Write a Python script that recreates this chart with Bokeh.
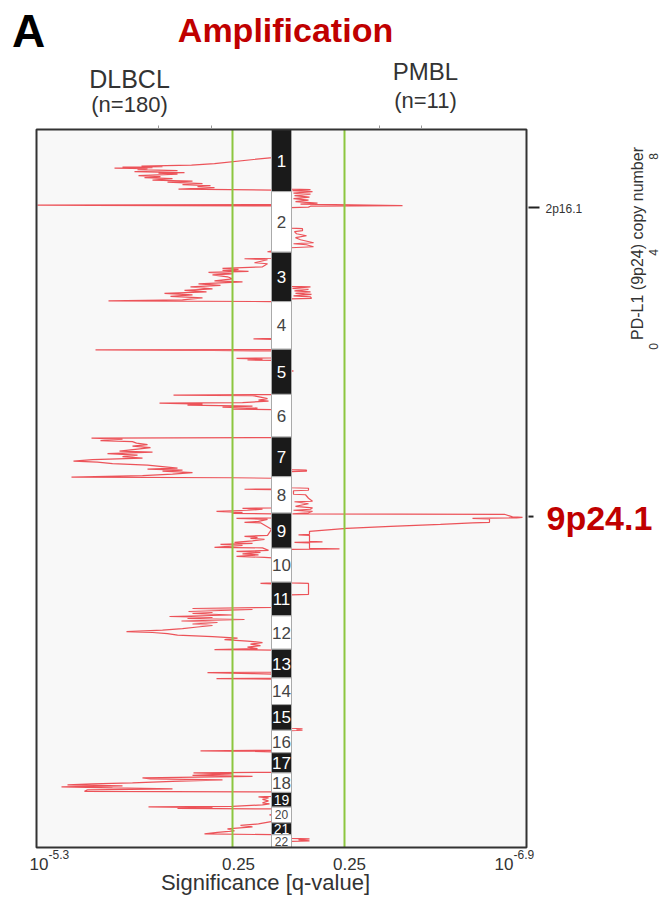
import math
from bokeh.plotting import figure
from bokeh.models import Range1d, ColumnDataSource
from bokeh.core.properties import value
from bokeh.embed import file_html
from bokeh.resources import INLINE

# ---------------- data ----------------
CHROMS = [str(i) for i in range(1, 23)]
CHROM_LEN = [249, 243, 198, 191, 181, 171, 159, 146, 141, 136, 135, 134,
             115, 107, 103, 90, 81, 78, 59, 63, 48, 51]  # Mb

# significance profiles: (genome position Mb, significance in display units; 0 = q 1, 235 = axis max)
DLBCL_PROFILE = [
    (0, 0),
    (112.5, 0), (136.6, 58), (142.6, 81), (146.7, 131), (148.7, 110), (150.7, 150), (152.7, 120),
    (154.7, 158), (156.7, 125), (160.7, 135), (164.7, 95), (168.8, 138), (172.8, 88), (174.8, 114),
    (178.8, 95), (184.8, 134), (188.8, 112), (192.9, 128), (196.9, 100), (202.9, 120), (206.9, 80),
    (210.9, 105), (217.0, 70), (221.0, 90), (225.0, 62), (229.0, 75), (233.0, 58), (239.1, 94), (243.1, 0),
    (301.4, 0), (303.0, 235), (304.6, 180), (306.2, 0),
    (486.2, 0), (490.2, 5), (492.2, 0), (516.3, 0), (518.3, 28), (522.3, 5), (534.4, 18), (538.4, 5),
    (550.5, 10), (556.5, 50), (560.5, 34), (564.5, 50), (568.5, 24), (572.6, 64), (578.6, 40),
    (582.6, 60), (590.6, 45), (598.7, 40), (606.7, 58), (610.7, 30), (618.8, 74), (624.8, 52),
    (630.8, 82), (638.9, 60), (644.9, 88), (650.9, 66), (656.9, 108), (663.0, 80), (669.0, 102),
    (675.0, 70), (683.1, 90), (687.1, 164), (689.9, 0),
    (837.8, 0), (839.8, 19), (841.8, 0), (882.0, 0), (884.0, 177), (886.0, 60), (888.0, 0),
    (916.1, 0), (918.1, 36), (920.9, 10), (924.1, 25), (926.1, 0),
    (1062.8, 0), (1064.8, 99), (1066.8, 20), (1072.8, 12), (1078.8, 5), (1084.9, 14), (1088.9, 4),
    (1094.9, 30), (1096.9, 113), (1100.9, 70), (1105.0, 85), (1109.0, 20), (1113.0, 50), (1117.0, 15),
    (1121.0, 40), (1123.0, 0),
    (1235.5, 0), (1237.5, 181), (1241.5, 150), (1247.6, 172), (1251.6, 140), (1257.6, 136),
    (1263.7, 125), (1269.7, 140), (1275.7, 122), (1281.7, 135), (1289.8, 153), (1293.8, 120),
    (1299.8, 165), (1305.9, 135), (1311.9, 150), (1317.9, 130), (1323.9, 180), (1330.0, 199),
    (1334.0, 175), (1340.0, 160), (1346.0, 125), (1352.1, 110), (1358.1, 95), (1362.1, 125),
    (1366.1, 90), (1370.1, 110), (1376.2, 80), (1382.2, 100), (1388.2, 130), (1394.2, 201),
    (1396.3, 40), (1398.3, 0),
    (1440.5, 0), (1442.5, 28), (1444.5, 0), (1516.8, 0), (1518.8, 30), (1522.8, 10), (1526.8, 25),
    (1530.9, 56), (1534.9, 30), (1538.9, 40), (1540.9, 0),
    (1557.0, 0), (1559.0, 36), (1563.0, 5), (1571.0, 14), (1575.1, 28), (1577.1, 12), (1603.2, 1),
    (1627.3, 5), (1631.3, 28), (1635.3, 15), (1639.3, 22), (1643.4, 8), (1649.4, 20), (1655.4, 38),
    (1659.4, 20), (1663.5, 52), (1667.5, 30), (1675.5, 58), (1677.5, 10),
    (1687.6, 4), (1691.6, 36), (1695.6, 12), (1701.6, 30), (1705.6, 14), (1711.7, 36), (1715.7, 8),
    (1717.7, 0), (1818.1, 0), (1820.2, 12), (1822.2, 0),
    (1916.6, 0), (1920.6, 80), (1924.6, 20), (1932.7, 84), (1936.7, 60), (1940.7, 80), (1946.7, 40),
    (1952.7, 103), (1956.8, 60), (1960.8, 85), (1964.8, 28), (1970.8, 91), (1976.9, 55), (1982.9, 80),
    (1988.9, 60), (1994.9, 75), (2001.0, 90), (2007.0, 110), (2013.0, 146), (2017.0, 120),
    (2021.1, 105), (2027.1, 95), (2033.1, 60), (2039.1, 35), (2045.2, 48), (2051.2, 25), (2057.2, 10),
    (2063.2, 22), (2069.3, 12), (2075.3, 25), (2081.3, 15), (2085.3, 58), (2087.4, 0),
    (2175.7, 0), (2177.8, 65), (2181.8, 20), (2183.8, 0), (2199.9, 0), (2201.9, 56), (2203.9, 0),
    (2489.2, 0), (2491.2, 72), (2493.2, 20), (2495.2, 0),
    (2577.5, 0), (2579.6, 79), (2583.6, 40), (2589.6, 80), (2593.6, 20), (2599.6, 130), (2603.6, 122),
    (2607.7, 50), (2613.7, 100), (2619.7, 140), (2623.7, 180), (2627.8, 205), (2631.8, 150),
    (2635.8, 211), (2639.8, 160), (2643.8, 100), (2647.9, 185), (2653.9, 188), (2655.9, 0),
    (2674.0, 0), (2676.0, 14), (2680.0, 4), (2686.0, 10), (2692.1, 4), (2700.1, 10), (2704.1, 3),
    (2708.1, 10), (2714.2, 40), (2716.2, 124), (2719.4, 60), (2722.2, 95), (2724.2, 0),
    (2746.3, 0), (2748.3, 3), (2750.3, 0),
    (2774.4, 0), (2784.5, 14), (2790.5, 32), (2796.6, 20), (2804.6, 45), (2812.6, 38), (2818.6, 55),
    (2824.7, 68), (2827.5, 0),
    (2879, 0),
]

PMBL_PROFILE = [
    (0, 0),
    (239.1, 0), (241.1, 20), (245.1, 2), (249.1, 22), (255.1, 3), (259.2, 20), (265.2, 4), (271.2, 19),
    (277.2, 3), (283.3, 18), (289.3, 5), (295.3, 27), (299.3, 10), (305.4, 112), (307.4, 20),
    (311.4, 18), (313.4, 0),
    (395.8, 0), (397.8, 12), (405.8, 12), (409.8, 4), (417.9, 6), (425.9, 16), (433.9, 5), (442.0, 10),
    (454.0, 23), (458.1, 3), (462.1, 16), (470.1, 23), (474.1, 0),
    (628.8, 0), (630.8, 20), (636.9, 2), (640.9, 18), (646.9, 4), (650.9, 20), (656.9, 5), (661.0, 21),
    (667.0, 3), (671.0, 20), (677.0, 21), (679.0, 0),
    (966.3, 0), (968.3, 3), (970.3, 0),
    (1364.1, 0), (1366.1, 16), (1370.1, 16), (1372.1, 0),
    (1436.4, 0), (1438.4, 18), (1446.5, 18), (1448.5, 3), (1462.6, 3), (1464.6, 15), (1478.6, 18),
    (1490.7, 22), (1492.7, 4), (1500.7, 18), (1510.8, 5), (1516.8, 22), (1522.8, 20), (1526.8, 3),
    (1530.9, 22), (1536.9, 18), (1540.9, 2),
    (1542.9, 214), (1553.0, 222), (1555.0, 232), (1557.0, 226), (1559.0, 182), (1561.0, 199),
    (1575.1, 199), (1577.1, 182), (1583.1, 150), (1591.1, 100), (1599.2, 56), (1611.2, 19),
    (1623.3, 19), (1625.3, 8), (1627.3, 19), (1651.4, 19), (1653.4, 32), (1655.4, 4), (1657.4, 19),
    (1679.5, 19), (1681.5, 49), (1683.5, 0),
    (1818.1, 0), (1820.2, 18), (1864.4, 18), (1866.4, 0),
    (2400.8, 0), (2402.8, 12), (2406.8, 6), (2408.8, 12), (2410.8, 0),
    (2842.7, 0), (2844.7, 19), (2848.8, 8), (2852.8, 19), (2854.8, 0),
    (2879, 0),
]

THRESH_DLBCL = 40      # q = 0.25 (display units)
THRESH_PMBL = 54       # q = 0.25 (display units)
SIG_MAX = 235          # axis maximum (10^-5.3 / 10^-6.9)
TICK_SIG_DLBCL = [114, 61]
TICK_SIG_PMBL = [89, 131]
PEAK_LABELS = ["2p16.1", "9p24.1"]
PEAK_POS = [313, 1552]
GROUPS = ["DLBCL", "PMBL"]
GROUP_N = ["(n=180)", "(n=11)"]
X_TICK_LABELS = ["0.25", "0.25"]
X_END_EXP = ["-5.3", "-6.9"]

# ---------------- layout ----------------
W, H = 660, 898
FL, FR, FT, FB = 36, 526, 129, 847
XC = (FL + FR) / 2.0
TOTAL = sum(CHROM_LEN)
PXMB = TOTAL / (FB - FT)
BAR_HALF = 10
BASE = 9
FONT = "Liberation Sans"


def X(px):
    return px - XC


def Y(py):
    return (py - FT) * PXMB


p = figure(width=W, height=H, x_range=Range1d(X(0), X(W)), y_range=Range1d(Y(H), Y(0)),
           output_backend="svg", toolbar_location=None,
           x_axis_location=None, y_axis_location=None,
           min_border_left=0, min_border_right=0, min_border_top=0, min_border_bottom=0)
for g in p.grid:
    g.visible = False
p.background_fill_color = "white"
p.border_fill_color = "white"
p.outline_line_color = None

LEFT_END = -(BASE + SIG_MAX + 1)
RIGHT_END = BASE + SIG_MAX + 1

# plot area background
p.quad(left=LEFT_END, right=RIGHT_END, top=0, bottom=TOTAL, fill_color="#f8f8f8", line_color=None)

# profiles
dl_pos = [a for a, b in DLBCL_PROFILE]
dl_x = [-(BASE + b) for a, b in DLBCL_PROFILE]
pm_pos = [a for a, b in PMBL_PROFILE]
pm_x = [BASE + b for a, b in PMBL_PROFILE]
p.line(dl_x, dl_pos, line_color="#e8141c", line_width=1.2, line_alpha=0.72)
p.line(pm_x, pm_pos, line_color="#e8141c", line_width=1.2, line_alpha=0.72)

# thresholds
p.segment(x0=[-(BASE + THRESH_DLBCL), BASE + THRESH_PMBL], x1=[-(BASE + THRESH_DLBCL), BASE + THRESH_PMBL],
          y0=[0, 0], y1=[TOTAL, TOTAL], line_color="#8cc63f", line_width=2)

# chromosome bar
starts, ends = [], []
acc = 0
for L in CHROM_LEN:
    starts.append(acc)
    acc += L
    ends.append(acc)
mids = [(s + e) / 2 for s, e in zip(starts, ends)]
fills = ["#1a1a1a" if i % 2 == 0 else "white" for i in range(len(CHROMS))]
tcols = ["white" if i % 2 == 0 else "#444444" for i in range(len(CHROMS))]
tsize = ["17px" if L >= 75 else ("14px" if i % 2 == 0 else "12px") for i, L in enumerate(CHROM_LEN)]
src = ColumnDataSource(dict(top=starts, bottom=ends, mid=mids, fill=fills, tc=tcols, ts=tsize, name=CHROMS))
p.quad(left=-BAR_HALF, right=BAR_HALF, top="top", bottom="bottom", fill_color="fill",
       line_color="#aaaaaa", line_width=1, source=src)
p.text(x=0, y="mid", text="name", text_align="center", text_baseline="middle",
       text_font=value(FONT), text_font_size="ts", text_color="tc", source=src)

# plot frame outline
p.quad(left=LEFT_END, right=RIGHT_END, top=0, bottom=TOTAL, fill_color=None,
       line_color="#333333", line_width=2)

# top tick marks (significance ticks)
tick_x = [-(BASE + t) for t in TICK_SIG_DLBCL] + [BASE + t for t in TICK_SIG_PMBL]
p.segment(x0=tick_x, x1=tick_x, y0=[Y(FT - 4)] * 4, y1=[Y(FT - 1)] * 4, line_color="#999999", line_width=1)

# right peak ticks
p.segment(x0=[RIGHT_END + 2] * 2, x1=[RIGHT_END + 13, RIGHT_END + 7], y0=PEAK_POS, y1=PEAK_POS,
          line_color="#222222", line_width=2)


def lab(text, px, py, size, color="#333333", bold=False, align="center", baseline="middle", angle=0.0):
    p.text(x=[X(px)], y=[Y(py)], text=[text], text_font=value(FONT), text_font_size=size,
           text_color=color, text_font_style="bold" if bold else "normal",
           text_align=align, text_baseline=baseline, angle=angle)


lab("A", 28, 30, "46px", color="black", bold=True)
lab("Amplification", 285, 29, "34px", color="#c00000", bold=True)
lab(GROUPS[0], 129, 78, "25px")
lab(GROUP_N[0], 129, 104, "22px")
lab(GROUPS[1], 425, 71, "24px")
lab(GROUP_N[1], 425, 100, "22px")

# bottom tick labels
lab("10", 29, 863, "17px", align="left")
lab(X_END_EXP[0], 48, 854, "12px", align="left")
lab(X_TICK_LABELS[0], 238, 863, "17px")
lab(X_TICK_LABELS[1], 349, 863, "17px")
lab("10", 494, 863, "17px", align="left")
lab(X_END_EXP[1], 513, 854, "12px", align="left")
lab("Significance [q-value]", 265, 882, "22px")

# peak labels
lab(PEAK_LABELS[0], 545, 208, "12px", align="left")
lab(PEAK_LABELS[1], 546, 517, "34px", color="#c00000", bold=True, align="left")

# neighbouring panel
lab("PD-L1 (9p24) copy number", 637, 243, "16px", angle=math.pi / 2)
for t, py in [("8", 156), ("4", 252), ("0", 346)]:
    lab(t, 653, py, "12px", angle=math.pi / 2)

open("out.html", "w").write(file_html(p, INLINE))
